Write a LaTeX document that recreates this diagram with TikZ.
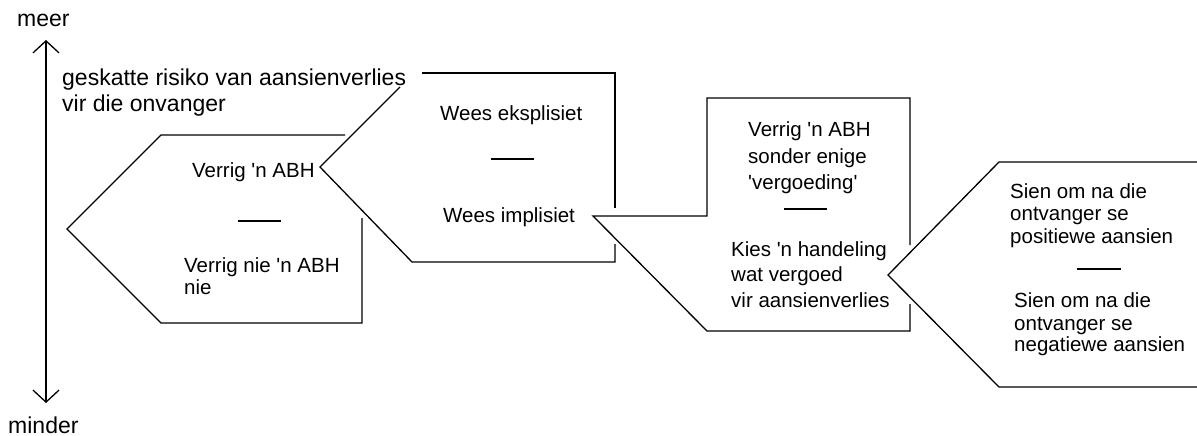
\documentclass[tikz,border=0pt]{standalone}
\usepackage{fontspec}
\setmainfont{Liberation Sans}
\usetikzlibrary{arrows.meta}
\newcommand{\sq}{\textquotesingle}
\begin{document}
\begin{tikzpicture}[x=1pt,y=-1pt,
  edge/.style={draw=black, line width=1.3pt, line join=miter},
  sep/.style={draw=black, line width=1.3pt},
  txt/.style={font=\fontsize{20.5}{24}\selectfont, anchor=base west, inner sep=0pt},
  big/.style={font=\fontsize{23}{25}\selectfont, anchor=base west, inner sep=0pt},
  axisarrow/.style={line width=1.3pt, {Straight Barb[length=12pt,width=26pt,line width=1.3pt]}-{Straight Barb[length=12pt,width=26pt,line width=1.3pt]}}]
\useasboundingbox[fill=white] (0,0) rectangle (1197,436);

% axis
\node[big] (meer) at (17,27) {meer};
\node[big] (minder) at (8,433) {minder};
\coordinate (atop) at (46,40);
\coordinate (abot) at (46,403);
\draw[axisarrow] (atop) -- (abot);
\node[big] (lab1) at (62,85) {geskatte risiko van aansienverlies};
\node[big] (lab2) at (62,111) {vir die onvanger};

% shape 1
\draw[edge] (345,135) -- (161,135) -- (67,229) -- (161,323) -- (362,323) -- (362,218);
\node[txt] (s1a) at (192,177) {Verrig \sq{}n ABH};
\coordinate (d1a) at (238,221); \coordinate (d1b) at (281,221);
\draw[sep] (d1a) -- (d1b);
\node[txt] (s1b) at (184,272) {Verrig nie \sq{}n ABH};
\node[txt] (s1c) at (184,294) {nie};

% shape 2
\draw[edge] (400,87) -- (320,167) -- (412,262) -- (615,262) -- (615,244);
\draw[edge] (422,73) -- (615,73) -- (615,208);
\node[txt] (s2a) at (440,120) {Wees eksplisiet};
\coordinate (d2a) at (491,159); \coordinate (d2b) at (534,159);
\draw[sep] (d2a) -- (d2b);
\node[txt] (s2b) at (443,222) {Wees implisiet};

% shape 3
\draw[edge] (910,245) -- (910,98) -- (707,98) -- (707,216) -- (593,216) -- (707,331) -- (910,331) -- (910,304);
\node[txt] (s3a) at (748,136) {Verrig \sq{}n ABH};
\node[txt] (s3b) at (748,163) {sonder enige};
\node[txt] (s3c) at (748,189) {\sq{}vergoeding\sq};
\coordinate (d3a) at (784,209); \coordinate (d3b) at (827,209);
\draw[sep] (d3a) -- (d3b);
\node[txt] (s3d) at (731,256) {Kies \sq{}n handeling};
\node[txt] (s3e) at (731,281) {wat vergoed};
\node[txt] (s3f) at (731,307) {vir aansienverlies};

% shape 4
\draw[edge] (1197,162) -- (999,162) -- (888,275) -- (999,387) -- (1197,387);
\node[txt] (s4a) at (1010,198) {Sien om na die};
\node[txt] (s4b) at (1010,220) {ontvanger se};
\node[txt] (s4c) at (1010,243) {positiewe aansien};
\coordinate (d4a) at (1077,269); \coordinate (d4b) at (1121,269);
\draw[sep] (d4a) -- (d4b);
\node[txt] (s4d) at (1014,307) {Sien om na die};
\node[txt] (s4e) at (1014,330) {ontvanger se};
\node[txt] (s4f) at (1014,351) {negatiewe aansien};
\end{tikzpicture}
\end{document}
